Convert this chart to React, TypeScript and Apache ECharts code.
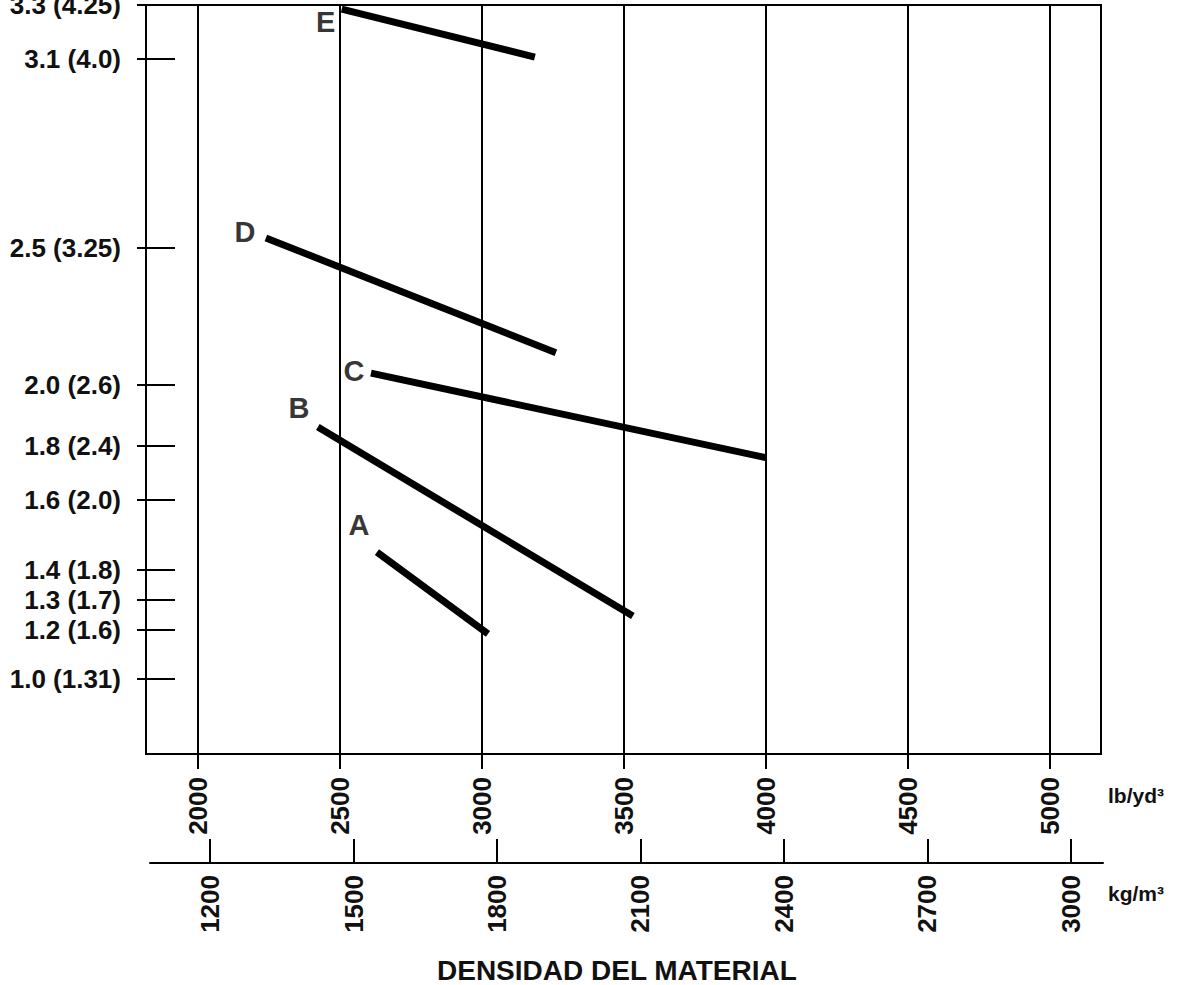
import React, { useEffect, useRef } from 'react';
import * as echarts from 'echarts';

// Capacity axis (m³ with yd³ in brackets) – nomogram scale, non-linear
const capacityTicks = [3.3, 3.1, 2.5, 2.0, 1.8, 1.6, 1.4, 1.3, 1.2, 1.0];
const capacityTickLabels = [
  '3.3 (4.25)', '3.1 (4.0)', '2.5 (3.25)', '2.0 (2.6)', '1.8 (2.4)',
  '1.6 (2.0)', '1.4 (1.8)', '1.3 (1.7)', '1.2 (1.6)', '1.0 (1.31)',
];
// scale position of each capacity tick along the nomogram axis (0 = bottom, 100 = top)
const capacityScale = [100, 92.79, 67.56, 49.27, 41.12, 33.91, 24.57, 20.56, 16.56, 10.01];

// Density axes
const lbTicks = [2000, 2500, 3000, 3500, 4000, 4500, 5000];
const kgTicks = [1200, 1500, 1800, 2100, 2400, 2700, 3000];
const lbRange = [1818, 5180];
const kgRange = [1074.5, 3067];

// Lines A–E: density (lb/yd³) and capacity (m³) at both ends
const lineNames = ['A', 'B', 'C', 'D', 'E'];
const lineStartDensity = [2631, 2423, 2610, 2240, 2507];
const lineEndDensity = [3022, 3532, 4000, 3261, 3187];
const lineStartCapacity = [1.451, 1.862, 2.043, 2.532, 3.285];
const lineEndCapacity = [1.184, 1.247, 1.757, 2.118, 3.107];

// label offsets (layout)
const labelOffsets: number[][] = [[-18, -27], [-19, -19], [-17, -2], [-21, -6], [-16, 13]];

const FONT = '"Liberation Sans", Arial, Helvetica, sans-serif';
const INK = '#000';

function capToPos(c: number): number {
  const n = capacityTicks.length;
  for (let i = 0; i < n - 1; i++) {
    const a = capacityTicks[i];
    const b = capacityTicks[i + 1];
    if (c <= a && c >= b) {
      const t = (c - b) / (a - b);
      return capacityScale[i + 1] + t * (capacityScale[i] - capacityScale[i + 1]);
    }
  }
  if (c > capacityTicks[0]) {
    const t = (c - capacityTicks[1]) / (capacityTicks[0] - capacityTicks[1]);
    return capacityScale[1] + t * (capacityScale[0] - capacityScale[1]);
  }
  const t = (c - capacityTicks[n - 1]) / (capacityTicks[n - 2] - capacityTicks[n - 1]);
  return capacityScale[n - 1] + t * (capacityScale[n - 2] - capacityScale[n - 1]);
}

export default function App() {
  const ref = useRef<HTMLDivElement>(null);
  useEffect(() => {
    const chart = echarts.init(ref.current as HTMLDivElement, null, { renderer: 'svg' });

    const lineSeries = lineNames.map((name, i) => ({
      name,
      type: 'line',
      xAxisIndex: 0,
      yAxisIndex: 0,
      symbol: 'none',
      silent: true,
      lineStyle: { color: INK, width: 7, cap: 'butt' },
      data: [
        [lineStartDensity[i], capToPos(lineStartCapacity[i])],
        [lineEndDensity[i], capToPos(lineEndCapacity[i])],
      ],
    }));

    const labelSeries = {
      type: 'scatter',
      xAxisIndex: 0,
      yAxisIndex: 0,
      symbolSize: 1,
      silent: true,
      itemStyle: { color: 'rgba(0,0,0,0)' },
      label: {
        show: true,
        position: 'inside',
        formatter: (p: any) => p.name,
        color: INK,
        fontFamily: FONT,
        fontWeight: 'bold',
        fontSize: 29,
        align: 'center',
        verticalAlign: 'middle',
      },
      data: lineNames.map((name, i) => ({
        name,
        value: [lineStartDensity[i], capToPos(lineStartCapacity[i])],
        label: { offset: labelOffsets[i] },
      })),
    };

    const plain = (v: number) => String(Math.round(v));

    chart.setOption({
      animation: false,
      backgroundColor: '#fff',
      title: {
        text: 'DENSIDAD DEL MATERIAL',
        left: 437,
        top: 956,
        padding: 0,
        textStyle: { fontFamily: FONT, fontWeight: 'bold', fontSize: 28, color: '#111' },
      },
      grid: [
        { left: 146, top: 5, width: 955, height: 749, show: true, borderColor: INK, borderWidth: 2, backgroundColor: 'transparent', outerBoundsMode: 'none', containLabel: false },
        { left: 150, top: 820, width: 953, height: 43, show: false, outerBoundsMode: 'none', containLabel: false },
      ],
      xAxis: [
        {
          type: 'value',
          gridIndex: 0,
          position: 'bottom',
          min: lbRange[0],
          max: lbRange[1],
          axisLine: { show: false },
          axisTick: { show: true, inside: false, length: 15, customValues: lbTicks, lineStyle: { color: INK, width: 2 } },
          splitLine: { show: true, lineStyle: { color: INK, width: 2 } },
          axisLabel: {
            show: true,
            customValues: lbTicks,
            formatter: plain,
            rotate: 90,
            margin: 23,
            color: '#111',
            fontFamily: FONT,
            fontWeight: 'bold',
            fontSize: 26,
          },
        },
        {
          type: 'value',
          gridIndex: 1,
          position: 'bottom',
          min: kgRange[0],
          max: kgRange[1],
          axisLine: { show: true, lineStyle: { color: INK, width: 2 } },
          axisTick: { show: true, inside: true, length: 24, customValues: kgTicks, lineStyle: { color: INK, width: 2 } },
          splitLine: { show: false },
          axisLabel: {
            show: true,
            customValues: kgTicks,
            formatter: plain,
            rotate: 90,
            margin: 12,
            color: '#111',
            fontFamily: FONT,
            fontWeight: 'bold',
            fontSize: 26,
          },
        },
      ],
      yAxis: [
        {
          type: 'value',
          gridIndex: 0,
          position: 'left',
          offset: -29,
          min: 0,
          max: 100,
          axisLine: { show: false },
          axisTick: { show: true, inside: false, length: 38, customValues: capacityScale, lineStyle: { color: INK, width: 2 } },
          splitLine: { show: false },
          axisLabel: {
            show: true,
            customValues: capacityScale,
            margin: 54,
            color: '#111',
            fontFamily: FONT,
            fontWeight: 'bold',
            fontSize: 26,
            formatter: (v: number) => {
              const idx = capacityScale.findIndex((p) => Math.abs(p - v) < 1e-6);
              return idx >= 0 ? capacityTickLabels[idx] : '';
            },
          },
        },
        {
          type: 'value',
          gridIndex: 1,
          show: false,
          min: 0,
          max: 1,
        },
      ],
      graphic: [
        {
          type: 'text',
          left: 1108,
          top: 785,
          style: { text: 'lb/yd³', font: `bold 21px ${FONT}`, fill: '#111' },
        },
        {
          type: 'text',
          left: 1108,
          top: 883,
          style: { text: 'kg/m³', font: `bold 21px ${FONT}`, fill: '#111' },
        },
      ],
      series: [...lineSeries, labelSeries],
    });

    return () => chart.dispose();
  }, []);

  return (
    <div
      ref={ref}
      style={{ position: 'absolute', left: 0, top: 0, width: 1177, height: 985 }}
    />
  );
}
